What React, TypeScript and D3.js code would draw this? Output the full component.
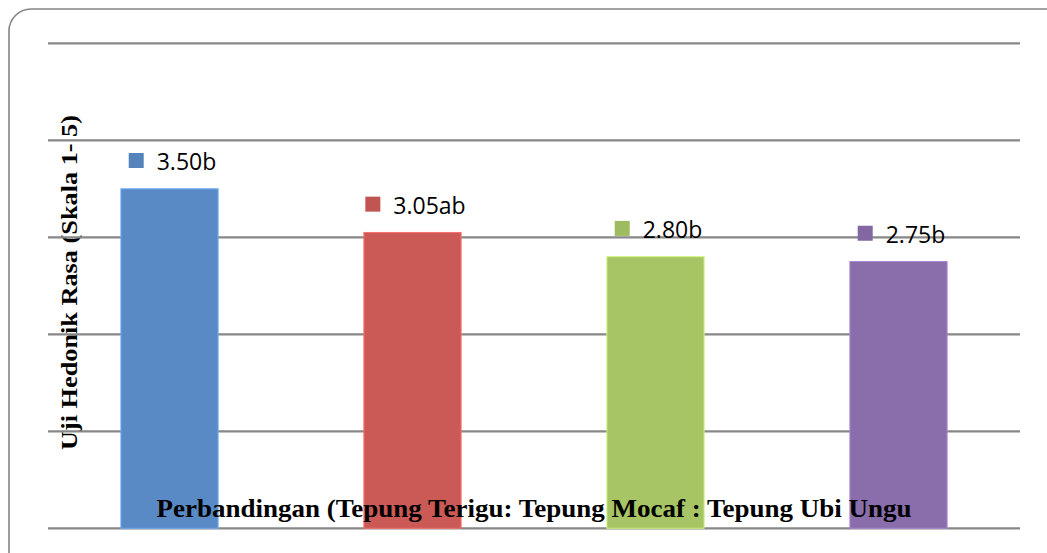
import React, { useEffect, useRef } from "react";
import * as d3 from "d3";

const categories = ["A", "B", "C", "D"];
const values = [3.5, 3.05, 2.8, 2.75];
const labels = ["3.50b", "3.05ab", "2.80b", "2.75b"];
const colors = ["#5A8AC6", "#CB5A56", "#A7C565", "#8A6DAB"];
const yTicks = [0, 1, 2, 3, 4, 5];
const yTitle = "Uji Hedonik Rasa (Skala 1- 5)";
const xTitle = "Perbandingan (Tepung Terigu: Tepung Mocaf : Tepung Ubi Ungu";

const W = 1047;
const H = 553;
const serif = "'Liberation Serif', 'Times New Roman', Times, serif";

export default function App() {
  const ref = useRef<SVGSVGElement | null>(null);

  useEffect(() => {
    const svg = d3.select(ref.current);
    svg.selectAll("*").remove();

    const left = 48;
    const right = 1020;
    const top = 43.3;
    const bottom = 528.3;

    const x = d3
      .scaleBand<string>()
      .domain(categories)
      .range([left, right])
      .paddingInner(0.6)
      .paddingOuter(0.3);
    const y = d3.scaleLinear().domain([0, 5]).range([bottom, top]);

    // outer frame
    svg
      .append("rect")
      .attr("x", 9)
      .attr("y", 9)
      .attr("width", 1060)
      .attr("height", 570)
      .attr("rx", 22)
      .attr("fill", "white")
      .attr("stroke", "#858585")
      .attr("stroke-width", 1.6);

    // y-axis title
    svg
      .append("text")
      .attr("transform", `translate(77,282.5) rotate(-90)`)
      .attr("text-anchor", "middle")
      .attr("font-family", serif)
      .attr("font-weight", "bold")
      .attr("font-size", 24)
      .attr("textLength", 335)
      .attr("lengthAdjust", "spacingAndGlyphs")
      .attr("fill", "#000")
      .text(yTitle);

    // gridlines
    svg
      .append("g")
      .selectAll("line")
      .data(yTicks)
      .join("line")
      .attr("x1", left)
      .attr("x2", right)
      .attr("y1", (d) => y(d))
      .attr("y2", (d) => y(d))
      .attr("stroke", "#878787")
      .attr("stroke-width", 2.2);

    // bars
    svg
      .append("g")
      .selectAll("rect")
      .data(values)
      .join("rect")
      .attr("x", (_, i) => x(categories[i])!)
      .attr("y", (d) => y(d))
      .attr("width", x.bandwidth())
      .attr("height", (d) => y(0) - y(d))
      .attr("fill", (_, i) => colors[i])
      .attr("stroke", (_, i) => d3.color(colors[i])!.brighter(0.6).formatHex())
      .attr("stroke-width", 1);

    // data labels with colour keys
    const lg = svg.append("g");
    values.forEach((v, i) => {
      const cx = x(categories[i])! + x.bandwidth() / 2 + 3;
      const base = y(v) - 18.5;
      const t = lg
        .append("text")
        .attr("font-family", "'Open Sans', sans-serif")
        .attr("font-size", 23)
        .attr("fill", "#000")
        .attr("y", base)
        .text(labels[i]);
      const w = (t.node() as SVGTextElement).getComputedTextLength();
      const blockW = 15 + 13 + w;
      const x0 = cx - blockW / 2;
      t.attr("x", x0 + 28);
      lg.append("rect")
        .attr("x", x0)
        .attr("y", base - 17.3)
        .attr("width", 15)
        .attr("height", 15)
        .attr("fill", d3.color(colors[i])!.darker(0.15).formatHex());
    });

    // x-axis title
    svg
      .append("text")
      .attr("x", (left + right) / 2)
      .attr("y", 517)
      .attr("text-anchor", "middle")
      .attr("font-family", serif)
      .attr("font-weight", "bold")
      .attr("font-size", 25)
      .attr("textLength", 755)
      .attr("lengthAdjust", "spacingAndGlyphs")
      .attr("fill", "#000")
      .text(xTitle);
  }, []);

  return (
    <svg
      ref={ref}
      width={W}
      height={H}
      style={{ position: "absolute", left: 0, top: 0, display: "block" }}
    />
  );
}
